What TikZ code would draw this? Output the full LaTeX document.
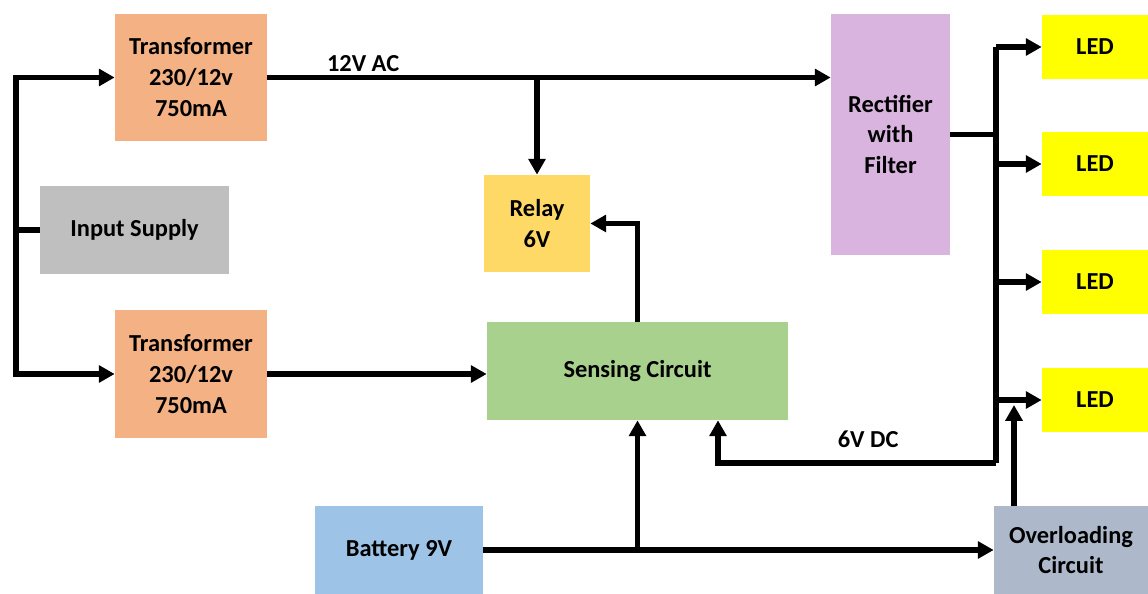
\documentclass[tikz,border=0pt]{standalone}
\usepackage{fontspec}
\setmainfont{Carlito}
\usetikzlibrary{arrows.meta,positioning,calc}
\definecolor{trafo}{HTML}{F4B183}
\definecolor{supply}{HTML}{BFBFBF}
\definecolor{relay}{HTML}{FFD966}
\definecolor{sense}{HTML}{A9D18E}
\definecolor{battery}{HTML}{9DC3E6}
\definecolor{rectif}{HTML}{D8B4DF}
\definecolor{ledyel}{HTML}{FFFF00}
\definecolor{overload}{HTML}{ADB9CA}
\tikzset{
  blk/.style={inner sep=0pt, align=center, font=\bfseries\fontsize{13.9}{17.6}\selectfont},
  wire/.style={line width=2.9pt},
  arr/.style={line width=2.9pt, -{Triangle[length=9pt,width=9.5pt]}},
  lbl/.style={font=\bfseries\fontsize{13.9}{16}\selectfont, inner sep=2pt}
}

\begin{document}
\begin{tikzpicture}[x=0.02cm, y=-0.02cm]
  \useasboundingbox (0,0) rectangle (1148,594);
  % blocks
  \node[blk,fill=trafo,minimum width=3.04cm,minimum height=2.54cm] (tr1) at (191,77.5) {Transformer\\230/12v\\750mA};
  \node[blk,fill=supply,minimum width=3.78cm,minimum height=1.76cm] (in) at (134.5,230) {Input Supply};
  \node[blk,fill=trafo,minimum width=3.04cm,minimum height=2.56cm] (tr2) at (191,374) {Transformer\\230/12v\\750mA};
  \node[blk,fill=relay,minimum width=2.12cm,minimum height=1.94cm] (rly) at (537,223.5) {Relay\\6V};
  \node[blk,fill=sense,minimum width=6.02cm,minimum height=1.96cm] (sns) at (637.5,371) {Sensing Circuit};
  \node[blk,fill=battery,minimum width=3.36cm,minimum height=1.76cm] (bat) at (399,550) {Battery 9V};
  \node[blk,fill=rectif,minimum width=2.38cm,minimum height=4.82cm] (rect) at (890.5,134.5) {Rectifier\\with\\Filter};
  \foreach \i/\y in {1/47,2/164,3/282,4/400}
    \node[blk,fill=ledyel,minimum width=2.12cm,minimum height=1.30cm] (led\i) at (1095,\y) {LED};
  \node[blk,fill=overload,minimum width=3.08cm,minimum height=1.76cm] (ovl) at (1071,550) {Overloading\\Circuit};

  % junction points
  \coordinate (lbus) at (16,230);
  \coordinate (rbusT) at (996,47);
  \coordinate (rbusB) at (996,463);
  \coordinate (ovtip) at (1014,405);

  % left supply bus
  \draw[wire] (in.west) -- (lbus);
  \draw[arr] (lbus) |- (tr1.west);
  \draw[arr] (lbus) |- (tr2.west);
  % AC side
  \draw[arr] (tr1.east) -- (rect.west |- tr1.east) node[lbl,pos=0.17,above] {12V AC};
  \draw[arr] (tr1.east -| rly.north) -- (rly.north);
  \draw[arr] (tr2.east) -- (sns.west |- tr2.east);
  \draw[arr] (sns.north) |- (rly.east);
  % DC side
  \draw[wire] (rect.east) -- (rect.east -| rbusT);
  \draw[wire] (rbusT) -- (rbusB);
  \foreach \i in {1,...,4}
    \draw[arr] (led\i.west -| rbusT) -- (led\i.west);
  \draw[arr] (rbusB) -| ([xshift=1.61cm]sns.south) node[lbl,pos=0.23,above=5pt] {6V DC};
  % battery
  \draw[arr] (bat.east) -- (ovl.west |- bat.east);
  \draw[arr] (bat.east -| sns.south) -- (sns.south);
  \draw[arr] (ovl.north -| ovtip) -- (ovtip);
\end{tikzpicture}
\end{document}
